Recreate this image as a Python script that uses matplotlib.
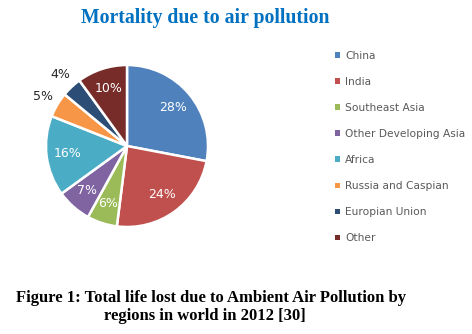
import matplotlib
matplotlib.use("Agg")
import matplotlib.pyplot as plt
import numpy as np

# ── Data ──────────────────────────────────────────────────────────────────────
REGIONS = ["China", "India", "Southeast Asia", "Other Developing Asia",
           "Africa", "Russia and Caspian", "Europian Union", "Other"]
SHARES  = [28, 24, 6, 7, 16, 5, 4, 10]
COLORS  = ["#4F81BD", "#C0504D", "#9BBB59", "#8064A2",
           "#4BACC6", "#F79646", "#2C4D75", "#772C2A"]
OUTSIDE = ["Russia and Caspian", "Europian Union"]

W, H = 472, 334
fig = plt.figure(figsize=(W / 100, H / 100), dpi=100)
fig.patch.set_facecolor("white")

# pie centre (127, 146) px, radius 81 px
cx, cy, r = 127, 146, 81
ax = fig.add_axes([(cx - r) / W, (H - cy - r) / H, 2 * r / W, 2 * r / H])

wedges, _ = ax.pie(SHARES, colors=COLORS, startangle=90, counterclock=False,
                   wedgeprops=dict(edgecolor="white", linewidth=1.8))
ax.set_xlim(-1, 1)
ax.set_ylim(-1, 1)
ax.set_aspect("equal")

for w, name, val in zip(wedges, REGIONS, SHARES):
    mid = np.deg2rad((w.theta1 + w.theta2) / 2)
    if name in OUTSIDE:
        d, col = 1.21, "#262626"
    else:
        d, col = 0.74, "white"
    ax.text(d * np.cos(mid), d * np.sin(mid), f"{val}%", ha="center", va="center",
            color=col, fontsize=9, family="DejaVu Sans", clip_on=False)

fig.text(205 / W, 1 - 18 / H, "Mortality due to air pollution", ha="center", va="center",
         color="#0070C0", fontsize=14.2, fontweight="bold", family="Liberation Serif")

leg = fig.legend(wedges, REGIONS, loc="upper left", bbox_to_anchor=(335 / W, 1 - 51 / H),
                 frameon=False, fontsize=7.7, handlelength=0.45, handleheight=0.45,
                 handletextpad=0.5, labelspacing=1.5, borderaxespad=0, borderpad=0)
for t in leg.get_texts():
    t.set_color("#595959")
for h in leg.legend_handles:
    h.set_edgecolor("none")

fig.text(16 / W, 1 - 298 / H, "Figure 1: Total life lost due to Ambient Air Pollution by",
         ha="left", va="center", fontsize=12, fontweight="bold", family="Liberation Serif")
fig.text(205 / W, 1 - 316 / H, "regions in world in 2012 [30]",
         ha="center", va="center", fontsize=12, fontweight="bold", family="Liberation Serif")

fig.savefig("out.png", dpi=100)
